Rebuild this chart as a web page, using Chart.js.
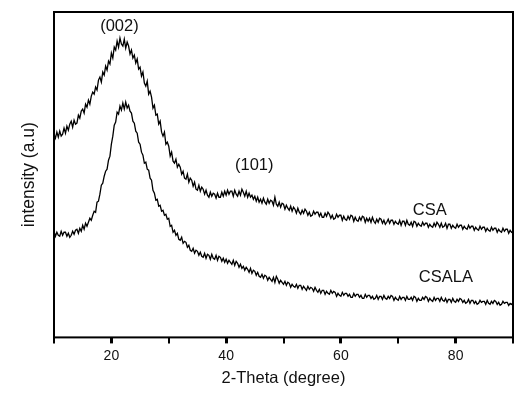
<!DOCTYPE html>
<html>
<head>
<meta charset="utf-8">
<script src="https://cdn.jsdelivr.net/npm/chart.js@4.4.0/dist/chart.umd.min.js"></script>
<style>
  body { margin: 0; background: #fff; }
  canvas { display: block; }
</style>
</head>
<body>
<canvas id="xrdChart" width="529" height="396"></canvas>
<script>
// 2-theta grid: 10 to 90 deg, 0.25 deg step
const startAngle = 10;
const stepAngle = 0.25;

// intensity (a.u.), one row per degree
const csa = [
  203, 199, 205, 200,  206, 201, 203, 209,  204, 211, 207, 213,  216, 210, 217, 213,
  214, 222, 219, 226,  228, 224, 233, 230,  237, 233, 241, 245,  243, 250, 247, 257,
  260, 255, 265, 262,  271, 267, 276, 273,  284, 279, 290, 287,  296, 290, 299, 293,
  291, 298, 289, 295,  291, 283, 287, 279,  282, 274, 278, 268,  270, 261, 265, 254,
  251, 256, 243, 246,  240, 229, 232, 222,  223, 213, 216, 205,  201, 205, 193, 195,
  191, 181, 185, 176,  174, 178, 170, 173,  170, 163, 166, 159,  158, 163, 155, 159,
  157, 151, 155, 148,  147, 152, 146, 150,  148, 143, 147, 142,  140, 145, 141, 144,
  143, 139, 144, 140,  140, 145, 141, 146,  142, 147, 143, 146,  146, 141, 147, 143,
  141, 146, 142, 148,  145, 141, 146, 140,  144, 140, 142, 138,  141, 136, 140, 135,
  138, 134, 139, 135,  133, 138, 134, 137,  136, 132, 140, 133,  131, 135, 130, 134,
  133, 128, 132, 129,  127, 131, 126, 130,  128, 124, 129, 125,  123, 127, 124, 128,
  126, 122, 125, 121,  122, 126, 123, 125,  125, 121, 124, 120,  120, 124, 121, 125,
  123, 119, 122, 118,  119, 123, 120, 122,  122, 117, 121, 118,  117, 121, 118, 122,
  121, 116, 120, 117,  116, 120, 117, 121,  120, 115, 119, 116,  119, 115, 120, 116,
  114, 118, 115, 119,  118, 114, 117, 113,  115, 118, 114, 117,  117, 113, 116, 114,
  113, 117, 112, 116,  116, 112, 117, 113,  112, 115, 111, 116,  115, 111, 114, 112,
  111, 115, 112, 114,  114, 110, 113, 111,  110, 114, 111, 115,  113, 110, 114, 110,
  111, 114, 109, 113,  113, 109, 112, 110,  109, 113, 110, 112,  112, 108, 111, 109,
  108, 112, 109, 111,  111, 107, 110, 108,  107, 111, 108, 110,  110, 106, 109, 107,
  106, 110, 107, 109,  109, 105, 108, 106,  105, 109, 106, 108,  108, 104, 107, 105,
  106
];

const csala = [
  106, 101, 105, 102,  101, 106, 102, 105,  105, 101, 104, 100,  102, 106, 103, 107,
  108, 104, 109, 106,  112, 108, 114, 111,  115, 119, 117, 122,  126, 125, 135, 136,
  143, 152, 154, 161,  166, 168, 177, 181,  193, 201, 212, 215,  225, 223, 231, 227,
  234, 228, 235, 229,  232, 226, 224, 216,  214, 206, 204, 195,  193, 185, 182, 174,
  175, 168, 167, 159,  157, 147, 144, 137,  138, 131, 132, 126,  127, 122, 123, 118,
  119, 111, 112, 105,  107, 102, 104, 98,   97, 100, 94, 96,    95, 90, 92, 87,
  86, 89, 84, 87,      86, 82, 85, 81,      80, 84, 79, 83,      82, 78, 83, 79,
  78, 82, 77, 81,      80, 76, 79, 75,      78, 74, 77, 75,      73, 77, 72, 76,
  74, 70, 73, 69,      71, 67, 70, 68,      65, 69, 64, 67,      66, 62, 65, 61,
  60, 63, 59, 62,      61, 57, 60, 58,      56, 60, 55, 61,      58, 54, 57, 55,
  53, 56, 52, 55,      54, 50, 53, 51,      50, 53, 49, 52,      52, 48, 51, 49,
  47, 51, 48, 50,      49, 46, 50, 47,      45, 48, 44, 47,      47, 43, 46, 44,
  43, 47, 44, 46,      45, 41, 44, 42,      41, 45, 42, 44,      44, 41, 43, 40,
  40, 44, 41, 43,      43, 40, 42, 39,      39, 43, 40, 42,      42, 39, 41, 38,
  39, 42, 38, 41,      41, 38, 42, 39,      38, 41, 39, 42,      41, 37, 40, 38,
  37, 41, 38, 40,      40, 37, 41, 38,      38, 40, 37, 41,      40, 36, 39, 37,
  37, 40, 38, 41,      40, 36, 39, 37,      36, 40, 37, 39,      39, 36, 40, 37,
  36, 39, 35, 38,      38, 35, 39, 36,      35, 38, 36, 39,      38, 35, 37, 34,
  35, 38, 34, 37,      37, 34, 36, 33,      34, 37, 35, 36,      36, 33, 37, 34,
  33, 36, 34, 37,      36, 33, 35, 32,      33, 36, 34, 35,      35, 32, 34, 33,
  34
];

const xTickLabels = [20, 40, 60, 80];

// text labels placed in data coordinates
const peakLabels = [
  { text: '(002)', x: 21.4, y: 311 },
  { text: '(101)', x: 44.9, y: 172 },
  { text: 'CSA', x: 75.5, y: 127 },
  { text: 'CSALA', x: 78.3, y: 60 }
];

const twoTheta = csa.map((_, i) => startAngle + i * stepAngle);
const toPoints = (vals) => vals.map((v, i) => ({ x: twoTheta[i], y: v }));

const fontFamily = '"Liberation Sans", Arial, sans-serif';

const framePlugin = {
  id: 'frame',
  afterDraw(chart) {
    const { ctx, chartArea: a, scales } = chart;
    ctx.save();
    ctx.strokeStyle = '#000';
    ctx.lineWidth = 2;
    ctx.strokeRect(a.left, a.top, a.right - a.left, a.bottom - a.top);

    ctx.fillStyle = '#111';
    ctx.font = '16.5px ' + fontFamily;
    ctx.textAlign = 'center';
    ctx.textBaseline = 'middle';
    peakLabels.forEach((l) => {
      ctx.fillText(l.text, scales.x.getPixelForValue(l.x), scales.y.getPixelForValue(l.y));
    });
    ctx.restore();
  }
};

new Chart(document.getElementById('xrdChart'), {
  type: 'line',
  data: {
    datasets: [
      { label: 'CSA', data: toPoints(csa) },
      { label: 'CSALA', data: toPoints(csala) }
    ]
  },
  options: {
    responsive: false,
    animation: false,
    events: [],
    layout: { padding: { left: 19, right: 16, top: 12, bottom: 8 } },
    elements: {
      line: { borderColor: '#000', borderWidth: 1.3, tension: 0 },
      point: { radius: 0 }
    },
    plugins: {
      legend: { display: false },
      tooltip: { enabled: false }
    },
    scales: {
      x: {
        type: 'linear',
        min: 10,
        max: 90,
        border: { display: false },
        grid: {
          drawOnChartArea: false,
          drawTicks: true,
          tickLength: 6,
          color: '#000',
          lineWidth: (c) => (c.tick && c.tick.value % 20 === 0 ? 3 : 2)
        },
        ticks: {
          stepSize: 10,
          padding: 4,
          color: '#111',
          font: { family: fontFamily, size: 14 },
          maxRotation: 0,
          autoSkip: false,
          callback: (v) => (xTickLabels.includes(v) ? String(v) : '')
        },
        title: {
          display: true,
          text: '2-Theta (degree)',
          color: '#111',
          font: { family: fontFamily, size: 16.5 },
          padding: { top: 0, bottom: 0 }
        }
      },
      y: {
        min: 0,
        max: 325,
        border: { display: false },
        grid: { display: false, drawTicks: false },
        ticks: { display: false },
        title: {
          display: true,
          text: 'intensity (a.u)',
          color: '#111',
          font: { family: fontFamily, size: 17.5 },
          padding: { top: 0, bottom: 14 }
        }
      }
    }
  },
  plugins: [framePlugin]
});
</script>
</body>
</html>
